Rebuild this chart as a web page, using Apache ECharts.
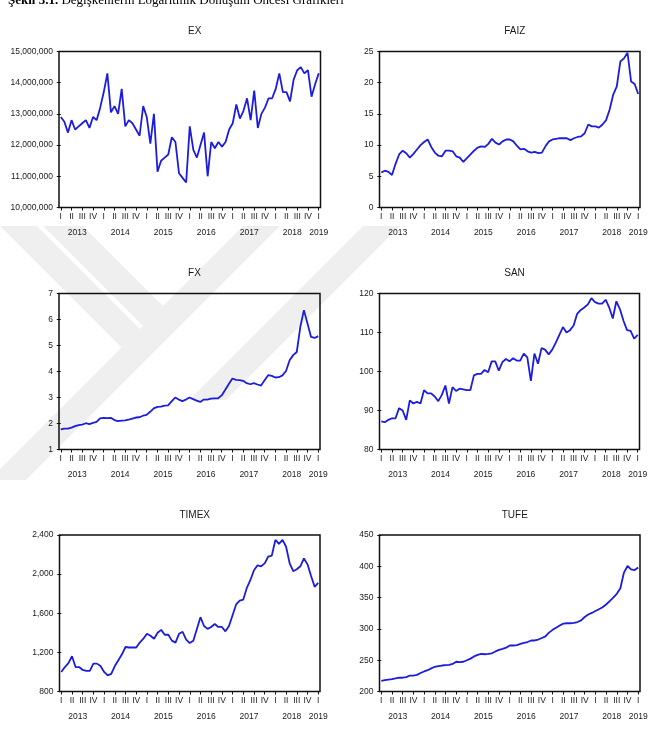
<!DOCTYPE html>
<html>
<head>
<meta charset="utf-8">
<script src="https://cdn.jsdelivr.net/npm/echarts@6/dist/echarts.min.js"></script>
<style>
html,body{margin:0;padding:0;background:#fff;}
#c{width:654px;height:744px;}
</style>
</head>
<body>
<div id="c"></div>
<script>
// Monthly observations 2013M01 .. 2019M01 (73 obs)
var quarterLabels = ['I','II','III','IV'];
var yearLabels = ['2013','2014','2015','2016','2017','2018','2019'];
var panelTitles = ['EX','FAIZ','FX','SAN','TIMEX','TUFE'];

var EX = [12.9,12.75,12.4,12.8,12.5,12.6,12.7,12.8,12.55,12.9,12.8,13.2,13.7,14.3,13.05,13.25,13.0,13.8,12.6,12.8,12.7,12.5,12.3,13.25,12.9,12.05,13.0,11.15,11.5,11.6,11.7,12.25,12.1,11.1,10.95,10.8,12.6,11.85,11.6,12.0,12.4,11.0,12.1,11.9,12.1,11.95,12.1,12.5,12.7,13.3,12.85,13.1,13.5,12.8,13.75,12.55,13.0,13.2,13.5,13.5,13.8,14.3,13.7,13.7,13.4,14.1,14.4,14.5,14.3,14.4,13.55,13.95,14.3].map(function(v){return v*1000000;});
var FAIZ = [5.6,5.9,5.7,5.2,7.0,8.5,9.1,8.7,8.0,8.6,9.3,10.0,10.5,10.9,9.7,8.8,8.3,8.2,9.1,9.1,9.0,8.2,8.0,7.3,7.9,8.5,9.1,9.6,9.8,9.7,10.2,11.0,10.4,10.1,10.6,10.9,10.9,10.6,9.9,9.3,9.4,9.0,8.8,8.9,8.7,8.8,9.8,10.6,10.9,11.0,11.1,11.1,11.1,10.8,11.1,11.3,11.4,11.9,13.3,13.0,13.0,12.8,13.3,14.0,15.7,18.1,19.4,23.4,23.9,24.8,20.2,19.8,18.2];
var FX = [1.77,1.80,1.80,1.84,1.90,1.94,1.96,2.01,1.98,2.02,2.06,2.20,2.22,2.21,2.22,2.13,2.09,2.11,2.12,2.15,2.19,2.23,2.24,2.30,2.33,2.45,2.58,2.64,2.65,2.69,2.70,2.85,3.00,2.92,2.86,2.92,3.00,2.94,2.88,2.83,2.92,2.92,2.96,2.97,2.97,3.08,3.30,3.52,3.73,3.68,3.67,3.64,3.55,3.51,3.55,3.50,3.46,3.66,3.86,3.83,3.77,3.78,3.85,4.02,4.43,4.63,4.75,5.72,6.36,5.85,5.33,5.29,5.36];
var SAN = [87.2,87.0,87.6,88.0,88.0,90.6,90.0,87.6,92.6,91.8,92.2,91.8,95.2,94.4,94.4,93.6,92.4,94.0,96.4,91.8,96.0,95.0,95.6,95.4,95.2,95.2,99.0,99.4,99.4,100.4,99.8,102.6,102.6,100.2,102.4,103.2,102.6,103.4,102.8,102.8,104.6,103.6,97.6,104.6,102.0,106.0,105.6,104.4,105.6,107.4,109.4,111.4,110.0,110.6,111.8,114.8,115.8,116.4,117.2,118.8,117.8,117.4,117.4,118.4,116.4,113.6,118.0,116.0,113.0,110.6,110.4,108.4,109.4];
var TIMEX = [1000,1050,1090,1160,1050,1050,1020,1010,1010,1085,1085,1060,1000,965,980,1060,1120,1180,1255,1250,1250,1250,1300,1340,1390,1370,1340,1400,1430,1380,1380,1320,1300,1390,1410,1330,1295,1320,1440,1560,1470,1440,1460,1490,1460,1460,1415,1470,1580,1690,1730,1740,1860,1940,2040,2090,2080,2110,2180,2190,2350,2310,2350,2280,2110,2030,2050,2080,2160,2100,1980,1870,1910];
var TUFE = [217,218,219,219.8,220.8,222,222,223,225.5,225.5,226.5,229.5,232,234,237,239.5,240.5,241.5,242,242.5,244,247.5,247,247.5,250,252.5,256,258.5,260,259.5,260,261,264,266.5,268,270,273.5,273.5,274,276,277.5,279,281.5,281.5,283,285.5,288,294,298.5,302,305.5,308.5,309,309,309.5,311,313.5,319,323,325.5,328.5,331.5,334.5,339,344.5,350,356,365,390,400.5,395,394,398];

var yAxisSpecs = [
  {min:10000000, max:15000000, interval:1000000, comma:true},
  {min:0, max:25, interval:5},
  {min:1, max:7, interval:1},
  {min:80, max:120, interval:10},
  {min:800, max:2400, interval:400, comma:true},
  {min:200, max:450, interval:50}
];
var seriesData = [EX, FAIZ, FX, SAN, TIMEX, TUFE];

var grids = [
  {left:59, top:51.5, width:261.5, height:156},
  {left:379.5, top:51.5, width:260.5, height:156},
  {left:59, top:293.5, width:261, height:156},
  {left:379.5, top:293.5, width:260, height:156},
  {left:59.5, top:535, width:260.5, height:156.5},
  {left:379.5, top:535, width:260.5, height:156.5}
];

var N = 73;
var tickVals = [];
for (var t = 0; t < N; t += 3) tickVals.push(t);
var yearPos = [4.6, 16.6, 28.6, 40.6, 52.6, 64.6, 72];

var font = 'Liberation Sans, Arial, sans-serif';
var textColor = '#1a1a1a';
var wmColor = '#efefef';

// faint background watermark (decoration, drawn beneath the charts)
function wm(points) {
  return {type:'polygon', z:-10, silent:true, shape:{points:points}, style:{fill:wmColor}};
}

var option = {
  animation: false,
  backgroundColor: '#fff',
  title: [],
  grid: [],
  xAxis: [],
  yAxis: [],
  series: [],
  graphic: [
    wm([[0,226],[37,226],[140,329],[121.5,347.5],[0,226]]),
    wm([[43,226],[83,226],[163,306],[143,326]]),
    wm([[243,226],[280,226],[26,480],[-11,480]]),
    wm([[363,226],[400,226],[226,400],[189,400]]),
    {
      type: 'text',
      left: 8,
      top: -6,
      style: {
        text: '{b|Şekil 3.1.} Değişkenlerin Logaritmik Dönüşüm Öncesi Grafikleri',
        font: '13px "Liberation Serif", "Times New Roman", serif',
        fill: '#000',
        rich: { b: { fontWeight: 'bold', fontFamily: 'Liberation Serif', fontSize: 13, fill: '#000' } }
      }
    }
  ]
};

grids.forEach(function(g, k) {
  option.grid.push({left:g.left, top:g.top, width:g.width, height:g.height, show:true, borderColor:'#111', borderWidth:1.5, backgroundColor:'transparent', containLabel:false});
  option.title.push({
    text: panelTitles[k],
    left: g.left + g.width/2,
    top: g.top - 30,
    textAlign: 'center',
    textStyle: {fontSize:10, fontWeight:'normal', color:textColor, fontFamily:font}
  });
  // quarter axis
  option.xAxis.push({
    type:'value', gridIndex:k, position:'bottom', min:-0.5, max:72.5,
    axisLine:{show:false},
    splitLine:{show:false},
    axisTick:{show:true, customValues:tickVals, length:3, lineStyle:{color:'#111', width:1}},
    axisLabel:{show:true, customValues:tickVals, margin:5, fontSize:8.5, color:textColor, fontFamily:font,
      formatter:function(v){ return quarterLabels[Math.round(v/3)%4]; }}
  });
  // year axis
  option.xAxis.push({
    type:'value', gridIndex:k, position:'bottom', offset:0, min:-0.5, max:72.5,
    axisLine:{show:false}, axisTick:{show:false}, splitLine:{show:false},
    axisLabel:{show:true, customValues:yearPos, margin:21, fontSize:8.5, color:textColor, fontFamily:font,
      formatter:function(v){ return v >= 72 ? yearLabels[6] : yearLabels[Math.floor(v/12)]; }}
  });
  var ys = yAxisSpecs[k];
  option.yAxis.push({
    type:'value', gridIndex:k, min:ys.min, max:ys.max, interval:ys.interval,
    axisLine:{show:false}, splitLine:{show:false},
    axisTick:{show:true, length:4, lineStyle:{color:'#111', width:1}},
    axisLabel:{margin:6, fontSize:8.5, color:textColor, fontFamily:font,
      formatter:function(v){ return ys.comma ? v.toLocaleString('en-US') : String(v); }}
  });
  option.series.push({
    type:'line', xAxisIndex:2*k, yAxisIndex:k,
    data: seriesData[k].map(function(v,i){ return [i, v]; }),
    showSymbol:false, symbol:'none',
    lineStyle:{color:'#1c1ce0', width:1.8},
    clip:true
  });
});

var chart = echarts.init(document.getElementById('c'), null, {renderer:'canvas'});
chart.setOption(option);
</script>
</body>
</html>
